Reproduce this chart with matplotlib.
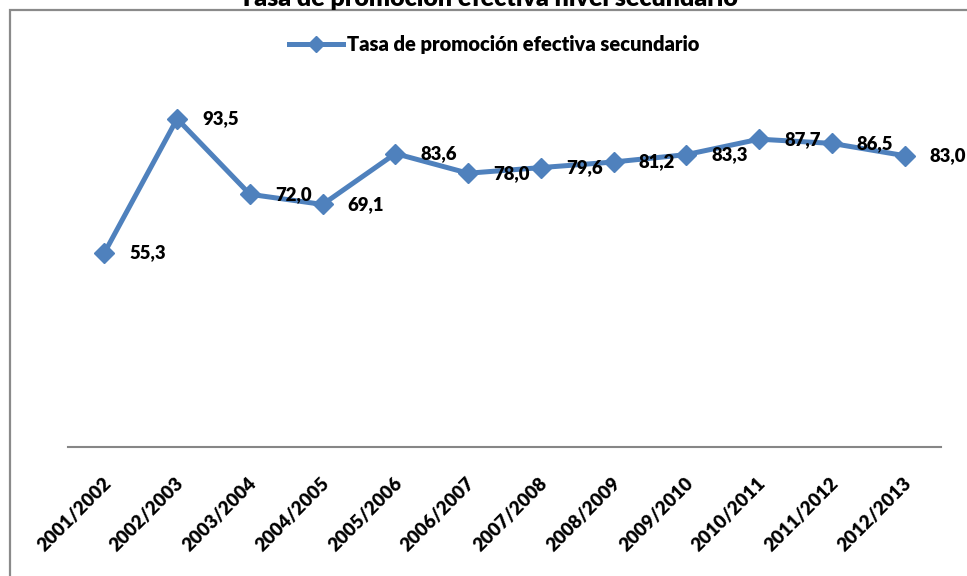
import matplotlib
matplotlib.use("Agg")
import matplotlib.pyplot as plt
from matplotlib.patches import Rectangle
from matplotlib.lines import Line2D
import matplotlib.transforms as mtransforms

plt.rcParams["font.family"] = ["Lato", "DejaVu Sans"]

# datos
periodos = ["2001/2002", "2002/2003", "2003/2004", "2004/2005", "2005/2006", "2006/2007",
            "2007/2008", "2008/2009", "2009/2010", "2010/2011", "2011/2012", "2012/2013"]
tasa = [55.3, 93.5, 72.0, 69.1, 83.6, 78.0, 79.6, 81.2, 83.3, 87.7, 86.5, 83.0]
etiquetas = ["55,3", "93,5", "72,0", "69,1", "83,6", "78,0", "79,6", "81,2", "83,3", "87,7", "86,5", "83,0"]

azul = "#4F81BD"
gris = "#868686"
peso = "heavy"

W, H = 967, 576
fig = plt.figure(figsize=(W / 100, H / 100), dpi=100)

# marco del gráfico (recortado a la derecha y abajo)
fig.patches.append(Rectangle((10 / W, -0.05), 1.1, 1 - 10 / H + 0.05, transform=fig.transFigure,
                             fill=False, edgecolor="#8a8a8a", linewidth=1.6))

ax = fig.add_axes([68 / W, 1 - 447 / H, (941 - 68) / W, (447 - 96) / H])
x = list(range(len(periodos)))
ax.plot(x, tasa, color=azul, linewidth=3.6, marker="D", markersize=10,
        markerfacecolor=azul, markeredgecolor=azul, solid_joinstyle="miter")

for xi, yi, txt in zip(x, tasa, etiquetas):
    ax.annotate(txt, (xi, yi), xytext=(25, 0), textcoords="offset pixels",
                ha="left", va="center", fontsize=13.3, fontweight=peso, color="black")

ax.set_xlim(-0.5, len(periodos) - 0.5)
ax.set_ylim(0, 100)
for s in ["top", "right", "left"]:
    ax.spines[s].set_visible(False)
ax.spines["bottom"].set_color(gris)
ax.spines["bottom"].set_linewidth(1.5)
ax.set_yticks([])
ax.set_xticks(x)
ax.set_xticklabels(periodos, rotation=45, ha="right", va="center", rotation_mode="anchor",
                   fontsize=13.5, fontweight=peso)
ax.tick_params(axis="x", length=0, pad=24)
off = mtransforms.ScaledTranslation(4 / 100, 0, fig.dpi_scale_trans)
for lbl in ax.get_xticklabels():
    lbl.set_transform(lbl.get_transform() + off)

# título (cortado en la parte superior, como en el original)
fig.text(488 / W, 1 - 6 / H, "Tasa de promoción efectiva nivel secundario",
         ha="center", va="baseline", fontsize=18, fontweight=peso)

# leyenda
handle = Line2D([], [], color=azul, linewidth=3.6, marker="D", markersize=8,
                markerfacecolor=azul, markeredgecolor=azul)
fig.legend([handle], ["Tasa de promoción efectiva secundario"], loc="center",
           bbox_to_anchor=(494 / W, 1 - 45 / H), frameon=False, handlelength=2.7,
           handletextpad=0.2, prop={"weight": peso, "size": 14.5})

fig.savefig("out.png", dpi=100)
